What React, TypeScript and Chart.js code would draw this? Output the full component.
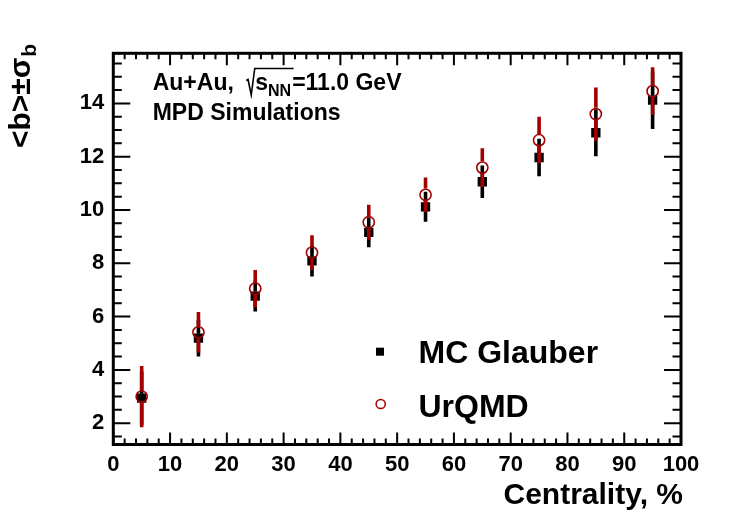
import { useEffect, useRef } from "react";
import { Chart, registerables } from "chart.js";

Chart.register(...registerables);

// ---- data ----
const centrality = [5, 15, 25, 35, 45, 55, 65, 75, 85, 95];
const glauberB = [2.94, 5.19, 6.77, 8.09, 9.16, 10.12, 11.06, 11.97, 12.9, 14.12];
const glauberSigma = [1.0, 0.69, 0.58, 0.59, 0.56, 0.56, 0.61, 0.7, 0.88, 1.08];
const urqmdB = [3.0, 5.41, 7.05, 8.4, 9.54, 10.57, 11.59, 12.62, 13.6, 14.46];
const urqmdSigma = [1.15, 0.76, 0.7, 0.65, 0.66, 0.65, 0.73, 0.88, 1.0, 0.9];
const xTickValues = [0, 10, 20, 30, 40, 50, 60, 70, 80, 90, 100];
const yTickValues = [2, 4, 6, 8, 10, 12, 14];
const seriesNames = ["MC Glauber", "UrQMD"];
const xTitle = "Centrality, %";
const systemLabel = "Au+Au,";
const energyLabel = "=11.0 GeV";
const simLabel = "MPD Simulations";

const RED = "#a50000";
const FONT = "'Liberation Sans', Arial, Helvetica, sans-serif";

function bold(size: number) {
  return `bold ${size}px ${FONT}`;
}

const errorBarPlugin = {
  id: "errorBars",
  beforeDatasetDraw(chart: any, args: any) {
    const i = args.index;
    const vals = i === 0 ? glauberB : urqmdB;
    const sig = i === 0 ? glauberSigma : urqmdSigma;
    const gap = i === 0 ? 4.5 : 6.2;
    const color = i === 0 ? "#000" : RED;
    const xs = chart.scales.x;
    const ys = chart.scales.y;
    const ctx = chart.ctx;
    ctx.save();
    ctx.strokeStyle = color;
    ctx.lineWidth = 3.6;
    ctx.lineCap = "butt";
    centrality.forEach((c, k) => {
      const px = xs.getPixelForValue(c);
      const py = ys.getPixelForValue(vals[k]);
      const top = ys.getPixelForValue(vals[k] + sig[k]);
      const bot = ys.getPixelForValue(vals[k] - sig[k]);
      ctx.beginPath();
      if (top < py - gap) {
        ctx.moveTo(px, top);
        ctx.lineTo(px, py - gap);
      }
      if (bot > py + gap) {
        ctx.moveTo(px, py + gap);
        ctx.lineTo(px, bot);
      }
      ctx.stroke();
    });
    ctx.restore();
  },
};

const framePlugin = {
  id: "rootFrame",
  afterDraw(chart: any) {
    const ctx = chart.ctx;
    const { left, right, top, bottom } = chart.chartArea;
    const xs = chart.scales.x;
    const ys = chart.scales.y;
    ctx.save();
    // ticks
    ctx.strokeStyle = "#000";
    ctx.lineWidth = 2;
    for (let v = 0; v <= 100 + 1e-9; v += 2) {
      const px = xs.getPixelForValue(v);
      const major = Math.abs(v % 10) < 1e-6;
      const len = major ? 12 : 6;
      ctx.beginPath();
      ctx.moveTo(px, bottom);
      ctx.lineTo(px, bottom - len);
      ctx.moveTo(px, top);
      ctx.lineTo(px, top + len);
      ctx.stroke();
    }
    for (let v = 1.5; v <= 15.5 + 1e-9; v += 0.5) {
      const py = ys.getPixelForValue(v);
      const major = Math.abs(v % 2) < 1e-6;
      const len = major ? 17 : 8.5;
      ctx.beginPath();
      ctx.moveTo(left, py);
      ctx.lineTo(left + len, py);
      ctx.moveTo(right, py);
      ctx.lineTo(right - len, py);
      ctx.stroke();
    }
    // frame
    ctx.lineWidth = 3;
    ctx.strokeRect(left, top, right - left, bottom - top);

    ctx.fillStyle = "#000";
    ctx.textBaseline = "alphabetic";
    ctx.textAlign = "left";

    // top-left annotation
    let x = 152.7;
    ctx.font = bold(23);
    ctx.fillText(systemLabel, x, 90);
    x += ctx.measureText(systemLabel + " ").width + 6;
    const sW = ctx.measureText("s").width;
    ctx.font = bold(16);
    const nnW = ctx.measureText("NN").width;
    const rStart = x;
    const rTop = 68.5;
    const rBody = rStart + 8.5;
    ctx.lineWidth = 1.6;
    ctx.beginPath();
    ctx.moveTo(rStart, 80.5);
    ctx.lineTo(rStart + 1.8, 79.5);
    ctx.lineTo(rStart + 5, 95);
    ctx.lineTo(rBody, rTop);
    ctx.lineTo(rBody + sW + nnW + 3, rTop);
    ctx.stroke();
    ctx.font = bold(23);
    ctx.fillText("s", rBody + 0.5, 90);
    ctx.font = bold(16);
    ctx.fillText("NN", rBody + 0.5 + sW, 95.5);
    ctx.font = bold(23);
    ctx.fillText(energyLabel, rBody + sW + nnW + 1.5, 90);
    ctx.fillText(simLabel, 152.7, 119.5);

    // legend
    ctx.fillRect(380 - 4, 351.7 - 4, 8, 8);
    ctx.strokeStyle = RED;
    ctx.lineWidth = 1.5;
    ctx.beginPath();
    ctx.arc(380.7, 404, 4.6, 0, Math.PI * 2);
    ctx.stroke();
    ctx.font = bold(32);
    ctx.fillText(seriesNames[0], 418.5, 363.3);
    ctx.fillText(seriesNames[1], 418.5, 416.7);

    // x title
    ctx.textAlign = "right";
    ctx.font = bold(30);
    ctx.fillText(xTitle, right + 2, 504);

    // y title (rotated)
    ctx.save();
    ctx.translate(29.5, 148);
    ctx.rotate(-Math.PI / 2);
    ctx.textAlign = "left";
    ctx.font = bold(30);
    const main = "<b>\u00B1\u03C3";
    ctx.fillText(main, 0, 0);
    const mw = ctx.measureText(main).width;
    ctx.font = bold(21);
    ctx.fillText("b", mw + 1, 6);
    ctx.restore();

    ctx.restore();
  },
};

export default function App() {
  const canvasRef = useRef<HTMLCanvasElement | null>(null);

  useEffect(() => {
    const canvas = canvasRef.current;
    if (!canvas) return;
    const chart = new Chart(canvas, {
      type: "scatter",
      data: {
        datasets: [
          {
            label: seriesNames[0],
            order: 2,
            data: centrality.map((c, i) => ({ x: c, y: glauberB[i] })),
            pointStyle: "rect",
            pointRadius: 6.6,
            pointHoverRadius: 6.6,
            backgroundColor: "#000",
            borderColor: "#000",
            borderWidth: 0,
          },
          {
            label: seriesNames[1],
            order: 1,
            data: centrality.map((c, i) => ({ x: c, y: urqmdB[i] })),
            pointStyle: "circle",
            pointRadius: 5.6,
            pointHoverRadius: 5.6,
            backgroundColor: "rgba(0,0,0,0)",
            borderColor: RED,
            borderWidth: 1.6,
          },
        ],
      },
      options: {
        animation: false,
        responsive: false,
        events: [],
        layout: { padding: { left: 0, top: 53.3, right: 75, bottom: 0 } },
        plugins: {
          legend: { display: false },
          tooltip: { enabled: false },
        },
        scales: {
          x: {
            type: "linear",
            min: 0,
            max: 100,
            afterFit: (s: any) => {
              s.height = 525 - 444.5;
            },
            afterBuildTicks: (s: any) => {
              s.ticks = xTickValues.map((v) => ({ value: v }));
            },
            grid: { display: false, drawTicks: false },
            border: { display: false },
            ticks: {
              padding: 7,
              color: "#000",
              maxRotation: 0,
              autoSkip: false,
              font: { family: FONT, weight: "bold", size: 22 },
            },
          },
          y: {
            type: "linear",
            min: 1.2,
            max: 15.88,
            afterFit: (s: any) => {
              s.width = 113.3;
            },
            afterBuildTicks: (s: any) => {
              s.ticks = yTickValues.map((v) => ({ value: v }));
            },
            grid: { display: false, drawTicks: false },
            border: { display: false },
            ticks: {
              padding: 9,
              color: "#000",
              autoSkip: false,
              font: { family: FONT, weight: "bold", size: 22 },
            },
          },
        },
      } as any,
      plugins: [errorBarPlugin, framePlugin],
    });
    return () => chart.destroy();
  }, []);

  return (
    <div style={{ position: "fixed", left: 0, top: 0, width: 756, height: 525, background: "#fff" }}>
      <canvas ref={canvasRef} width={756} height={525} style={{ width: 756, height: 525, display: "block" }} />
    </div>
  );
}
